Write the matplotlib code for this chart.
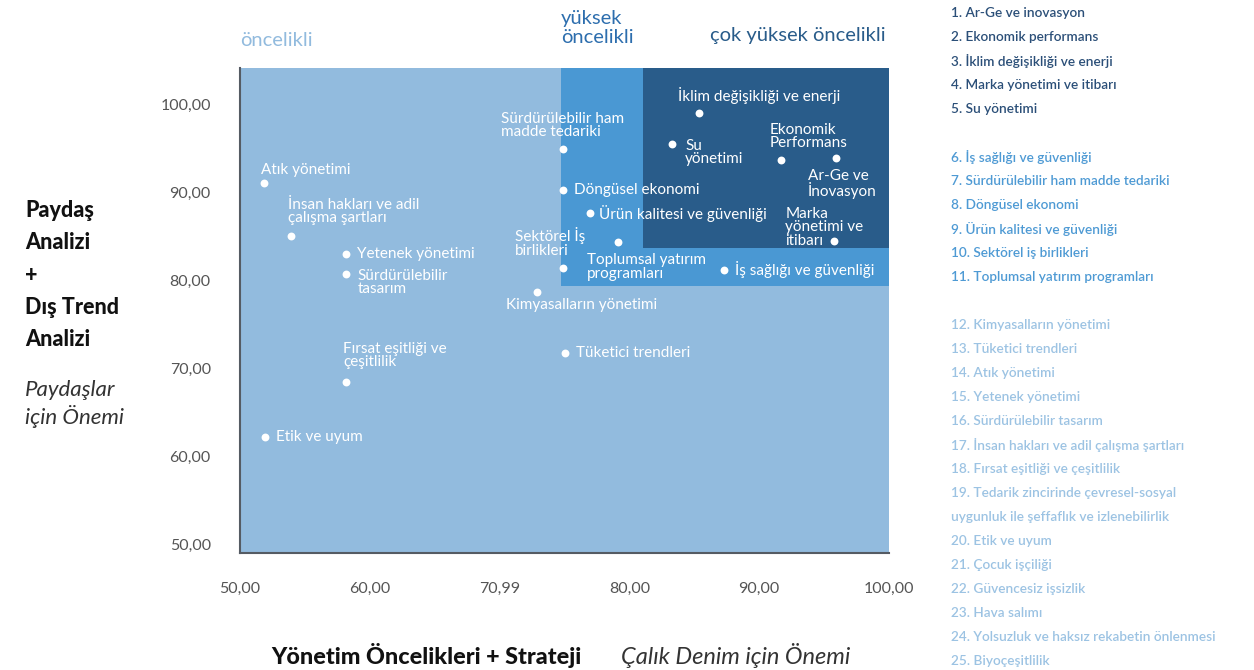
import matplotlib

matplotlib.use("Agg")
import matplotlib.pyplot as plt
from matplotlib.patches import Rectangle

plt.rcParams["font.family"] = ["Lato", "DejaVu Sans"]

# topics: label, x (Çalık Denim için Önemi), y (Paydaşlar için Önemi)
labels = [
    "Atık yönetimi", "İnsan hakları ve adil\nçalışma şartları", "Yetenek yönetimi",
    "Sürdürülebilir\ntasarım", "Fırsat eşitliği ve\nçeşitlilik", "Etik ve uyum",
    "Kimyasalların yönetimi", "Tüketici trendleri", "Sürdürülebilir ham\nmadde tedariki",
    "Döngüsel ekonomi", "Ürün kalitesi ve güvenliği", "Sektörel İş\nbirlikleri",
    "Toplumsal yatırım\nprogramları", "İş sağlığı ve güvenliği", "İklim değişikliği ve enerji",
    "Su\nyönetimi", "Ekonomik\nPerformans", "Ar-Ge ve\nİnovasyon", "Marka\nyönetimi ve\nitibarı",
]
x_vals = [51.85, 53.9, 58.2, 58.2, 58.2, 51.9, 72.9, 75.0, 74.9, 74.9, 77.0, 74.9,
          79.1, 87.3, 85.4, 83.3, 91.7, 95.9, 95.8]
y_vals = [91.0, 85.0, 83.0, 80.7, 68.4, 62.2, 78.6, 71.7, 94.9, 90.2, 87.6, 81.4,
          84.3, 81.1, 99.0, 95.5, 93.6, 93.9, 84.5]

# label placement (offset in pixels, vertical anchor)
offsets = [(-3, 13, "center"), (-3, 11, "bottom"), (11, 0, "center"), (11, 5, "top"),
           (-3, 13, "bottom"), (11, 0, "center"), (-31, -6, "top"), (11, 0, "center"),
           (-62, 10, "bottom"), (11, 0, "center"), (9, 0, "center"), (-48, 10, "bottom"),
           (-31, -11, "top"), (11, 1, "center"), (-21, 9, "bottom"), (13, 5, "top"),
           (-12, 10, "bottom"), (-28, -11, "top"), (-49, -7, "bottom")]

x_ticks = [50, 60, 70, 80, 90, 100]
x_ticklabels = ["50,00", "60,00", "70,99", "80,00", "90,00", "100,00"]
y_ticks = [50, 60, 70, 80, 90, 100]
y_ticklabels = ["50,00", "60,00", "70,00", "80,00", "90,00", "100,00"]

# priority zones
high_x, high_y = 74.7, 79.3
very_high_x, very_high_y = 81.05, 83.6

legend_dark = ["1. Ar-Ge ve inovasyon", "2. Ekonomik performans", "3. İklim değişikliği ve enerji",
               "4. Marka yönetimi ve itibarı", "5. Su yönetimi"]
legend_mid = ["6. İş sağlığı ve güvenliği", "7. Sürdürülebilir ham madde tedariki",
              "8. Döngüsel ekonomi", "9. Ürün kalitesi ve güvenliği",
              "10. Sektörel iş birlikleri", "11. Toplumsal yatırım programları"]
legend_light = ["12. Kimyasalların yönetimi", "13. Tüketici trendleri", "14. Atık yönetimi",
                "15. Yetenek yönetimi", "16. Sürdürülebilir tasarım",
                "17. İnsan hakları ve adil çalışma şartları", "18. Fırsat eşitliği ve çeşitlilik",
                "19. Tedarik zincirinde çevresel-sosyal",
                "uygunluk ile şeffaflık ve izlenebilirlik", "20. Etik ve uyum",
                "21. Çocuk işçiliği", "22. Güvencesiz işsizlik", "23. Hava salımı",
                "24. Yolsuzluk ve haksız rekabetin önlenmesi", "25. Biyoçeşitlilik"]

LIGHT = "#92bbde"
MID = "#4a98d3"
DARK = "#295c8a"

fig = plt.figure(figsize=(12.54, 6.70), dpi=100)
ax = fig.add_axes([240 / 1254, 1 - 553 / 670, 649 / 1254, 485 / 670])
ax.set_xlim(50, 100)
ax.set_ylim(49, 104.1)
ax.set_facecolor(LIGHT)
ax.add_patch(Rectangle((high_x, high_y), 100 - high_x, 104.1 - high_y, color=MID, lw=0, zorder=1))
ax.add_patch(Rectangle((very_high_x, very_high_y), 100 - very_high_x, 104.1 - very_high_y,
                       color=DARK, lw=0, zorder=1))

ax.scatter(x_vals, y_vals, s=32, color="white", zorder=3, lw=0)
for lab, x, y, (dx, dy, va) in zip(labels, x_vals, y_vals, offsets):
    ax.annotate(lab, (x, y), xytext=(dx, dy), textcoords="offset pixels", ha="left", va=va,
                color="white", fontsize=11, linespacing=0.95, zorder=4)

for side in ["top", "right"]:
    ax.spines[side].set_visible(False)
ax.spines["left"].set_color("#555b63")
ax.spines["bottom"].set_color("#555b63")
ax.spines["left"].set_linewidth(1.5)
ax.spines["bottom"].set_linewidth(1.5)
ax.set_xticks(x_ticks)
ax.set_xticklabels(x_ticklabels)
ax.set_yticks(y_ticks)
ax.set_yticklabels(y_ticklabels)
ax.tick_params(length=0, labelsize=11.5, labelcolor="#555555")
ax.tick_params(axis="x", pad=21)
ax.tick_params(axis="y", pad=21)

# zone titles
fig.text(240 / 1254, 1 - 40 / 670, "öncelikli", color="#92bbde", fontsize=14.5, va="center")
fig.text(561 / 1254, 1 - 28 / 670, "yüksek\nöncelikli", color="#2d6eae", fontsize=14.5,
         va="center", linespacing=1.1)
fig.text(886 / 1254, 1 - 36 / 670, "çok yüksek öncelikli", color=DARK, fontsize=14.5,
         va="center", ha="right")

# axis titles
fig.text(25 / 1254, 1 - 275 / 670, "Paydaş\nAnalizi\n+\nDış Trend\nAnalizi", fontsize=15.5,
         fontweight="black", color="#111111", va="center", linespacing=1.66)
fig.text(25 / 1254, 1 - 404 / 670, "Paydaşlar\niçin Önemi", fontsize=16, style="italic",
         color="#333333", va="center", linespacing=1.25)
fig.text(582 / 1254, 1 - 655 / 670, "Yönetim Öncelikleri + Strateji", fontsize=16.8,
         fontweight="black", color="#111111", va="center", ha="right")
fig.text(621 / 1254, 1 - 655 / 670, "Çalık Denim için Önemi", fontsize=17, style="italic",
         color="#333333", va="center")

# numbered list
rows = [(t, "#2b4f78") for t in legend_dark] + [(None, None)]
rows += [(t, "#4e9ad4") for t in legend_mid] + [(None, None)]
rows += [(t, "#9cc3e3") for t in legend_light]
for i, (t, c) in enumerate(rows):
    if t is None:
        continue
    fig.text(951 / 1254, 1 - (13 + 24 * i) / 670, t, color=c, fontsize=9.8,
             fontweight="semibold", va="center")

fig.savefig("out.png", dpi=100)
